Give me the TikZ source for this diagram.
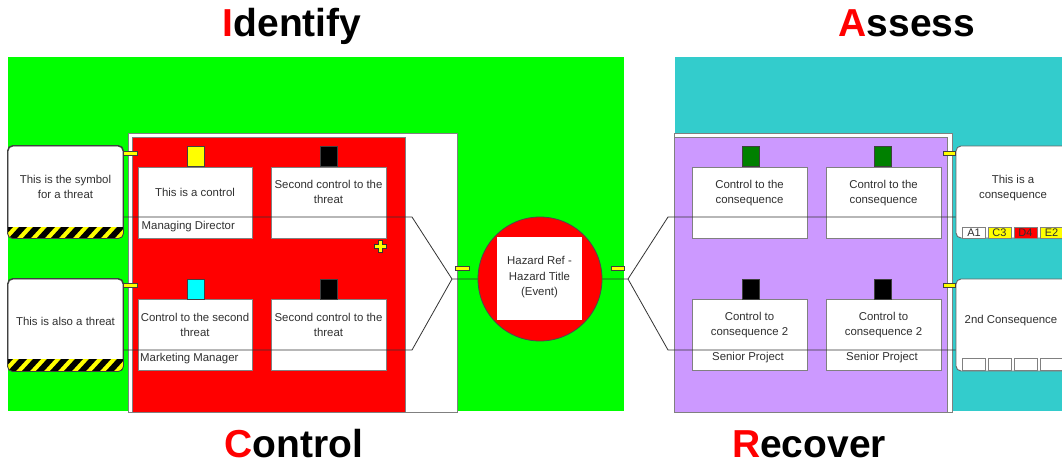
\documentclass[tikz,border=0pt]{standalone}
\usepackage{fontspec}
\setmainfont{Liberation Sans}
\definecolor{bgreen}{HTML}{00FF00}
\definecolor{bcyan}{HTML}{33CCCC}
\definecolor{bpurple}{HTML}{CC99FF}
\definecolor{bred}{HTML}{FF0000}
\definecolor{bgray}{HTML}{808080}
\definecolor{dkgreen}{HTML}{008000}
\definecolor{tagcyan}{HTML}{00FFFF}
\definecolor{byellow}{HTML}{FFFF00}
\definecolor{txt}{HTML}{303030}
\begin{document}
\begin{tikzpicture}[x=1pt,y=-1pt,
  ctrlbox/.style={draw=bgray, fill=white, line width=0.9pt, minimum width=114pt, minimum height=71pt, inner sep=0pt},
  tagbox/.style={draw=black!75, line width=0.7pt, minimum width=17pt, minimum height=20pt, inner sep=0pt},
  ctext/.style={font=\fontsize{11.4}{15.5}\selectfont, align=center, text=txt, inner sep=0pt},
  threatbox/.style={draw=black!75, fill=white, line width=0.9pt, rounded corners=5pt, minimum width=115pt, minimum height=92pt, inner sep=0pt},
  consbox/.style={draw=black!60, fill=white, line width=0.9pt, rounded corners=5pt, minimum width=124pt, minimum height=92pt, inner sep=0pt},
  conn/.style={draw=black!75, fill=byellow, line width=0.6pt},
  path/.style={draw=black!80, line width=0.8pt},
  cell/.style={draw=bgray, line width=0.8pt, minimum width=23pt, minimum height=11pt, inner sep=0pt, font=\fontsize{11}{11}\selectfont, text=txt},
  title/.style={font=\fontsize{39}{39}\selectfont\bfseries, anchor=base, inner sep=0pt, text depth=0pt}
]
\clip (0,0) rectangle (1062,466);
\fill[white] (0,0) rectangle (1062,466);
% backgrounds
\fill[bgreen] (8,57) rectangle (624,411);
\fill[bcyan] (675,57) rectangle (1062,411);
% left frame
\draw[fill=white, draw=bgray, line width=0.9pt] (128,133) rectangle (457,412);
\draw[fill=bred, draw=bgray, line width=0.9pt] (132,137) rectangle (405.5,412);
% right frame
\draw[fill=white, draw=bgray, line width=0.9pt] (674.5,133) rectangle (952,412);
\draw[fill=bpurple, draw=bgray, line width=0.9pt] (674.5,137) rectangle (947,412);

% threats
\node[threatbox] (t1) at (65.5,192) {};
\node[threatbox] (t2) at (65.5,325) {};
\foreach \tb/\ytop in {t1/227,t2/359}{
  \begin{scope}
    \clip[rounded corners=5pt] (\tb.north west) rectangle (\tb.south east);
    \clip (0,\ytop) rectangle (130,\ytop+12);
    \fill[byellow] (0,\ytop) rectangle (130,\ytop+12);
    \foreach \i in {-1,...,9}
      \fill[black] ({8+\i*14},\ytop+12) -- ({16+\i*14},\ytop+12) -- ({27+\i*14},\ytop) -- ({19+\i*14},\ytop) -- cycle;
  \end{scope}
  \draw[black!75, line width=0.9pt, rounded corners=5pt] (\tb.north west) rectangle (\tb.south east);
}
\node[ctext] (t1t) at (65.5,187) {This is the symbol\\for a threat};
\node[ctext] (t2t) at (65.5,321) {This is also a threat};

% left controls
\node[ctrlbox] (c1) at (195,202.5) {};
\node[ctrlbox, minimum width=115pt] (c2) at (328.5,202.5) {};
\node[ctrlbox] (c3) at (195,334.5) {};
\node[ctrlbox, minimum width=115pt] (c4) at (328.5,334.5) {};
\node[tagbox, fill=byellow] (g1) at (196,156.5) {};
\node[tagbox, fill=black] (g2) at (328.5,156.5) {};
\node[tagbox, fill=tagcyan] (g3) at (196,289) {};
\node[tagbox, fill=black] (g4) at (328.5,289) {};
\node[ctext] (c1t) at (195,192) {This is a control};
\node[ctext] (c2t) at (328.5,192) {Second control to the\\threat};
\node[ctext] (c3t) at (195,325) {Control to the second\\threat};
\node[ctext] (c4t) at (328.5,325) {Second control to the\\threat};
\node[ctext, anchor=west] (c1l) at (141.5,227) {Managing Director};
\node[ctext, anchor=west] (c3l) at (140,359) {Marketing Manager};

% plus
\draw[fill=byellow, draw=black!80, line width=0.6pt] (378,240) -- (382,240) -- (382,244) -- (386,244) -- (386,248) -- (382,248) -- (382,252) -- (378,252) -- (378,248) -- (374,248) -- (374,244) -- (378,244) -- cycle;

% right controls
\node[ctrlbox, minimum width=115pt] (r1) at (749.5,202.5) {};
\node[ctrlbox, minimum width=115pt] (r2) at (883.5,202.5) {};
\node[ctrlbox, minimum width=115pt] (r3) at (749.5,334.5) {};
\node[ctrlbox, minimum width=115pt] (r4) at (883.5,334.5) {};
\node[tagbox, fill=dkgreen] (h1) at (750.5,156.5) {};
\node[tagbox, fill=dkgreen] (h2) at (882.5,156.5) {};
\node[tagbox, fill=black] (h3) at (750.5,289) {};
\node[tagbox, fill=black] (h4) at (882.5,289) {};
\node[ctext] (r1t) at (749.5,193) {Control to the\\consequence};
\node[ctext] (r2t) at (883.5,193) {Control to the\\consequence};
\node[ctext] (r3t) at (749.5,325) {Control to\\consequence 2};
\node[ctext] (r4t) at (883.5,325) {Control to\\consequence 2};
\node[ctext] (r3l) at (748,358) {Senior Project};
\node[ctext] (r4l) at (882,358) {Senior Project};

% consequences
\node[consbox] (q1) at (1018,192) {};
\node[consbox] (q2) at (1018,325) {};
\node[ctext] (q1t) at (1013,188) {This is a\\consequence};
\node[ctext] (q2t) at (1011,321) {2nd Consequence};
\node[cell, fill=white] (a1) at (974,232.5) {A1};
\node[cell, fill=byellow] (a2) at (999.5,232.5) {C3};
\node[cell, fill=bred] (a3) at (1025.5,232.5) {D4};
\node[cell, fill=byellow] (a4) at (1051.5,232.5) {E2};
\node[cell, fill=white, minimum height=12pt] (b1) at (974,364.5) {};
\node[cell, fill=white, minimum height=12pt] (b2) at (999.5,364.5) {};
\node[cell, fill=white, minimum height=12pt] (b3) at (1025.5,364.5) {};
\node[cell, fill=white, minimum height=12pt] (b4) at (1051.5,364.5) {};

% hazard
\node[circle, draw=black!70, fill=bred, line width=0.8pt, minimum size=124pt, inner sep=0pt] (hz) at (540,279) {};
\node[fill=white, minimum width=85pt, minimum height=83pt, inner sep=0pt] (hzb) at (539.5,278.5) {};
\node[ctext] (hzt) at (539.5,277.5) {Hazard Ref -\\Hazard Title\\(Event)};

% path coordinates
\coordinate (lA) at (412,217);
\coordinate (lB) at (412,350);
\coordinate (jL) at (452,279);
\coordinate (jR) at (628,279);
\coordinate (rA) at (668,217);
\coordinate (rB) at (668,350);
\draw[path] (t1.east |- lA) -- (lA) -- (jL) -- (hz.west);
\draw[path] (t2.east |- lB) -- (lB) -- (jL);
\draw[path] (hz.east) -- (jR) -- (rA) -- (q1.west |- rA);
\draw[path] (jR) -- (rB) -- (q2.west |- rB);

% small yellow connectors
\draw[conn] (123,151) rectangle (137,155);
\draw[conn] (123,283) rectangle (137,287);
\draw[conn] (455,266) rectangle (469,270);
\draw[conn] (611,266) rectangle (624,270);
\draw[conn] (943,151) rectangle (955,155);
\draw[conn] (943,283) rectangle (955,287);

% titles
\node[title] (ti1) at (292,36) {\textcolor{red}{I}dentify};
\node[title] (ti2) at (907,36) {\textcolor{red}{A}ssess};
\node[title] (ti3) at (294,457) {\textcolor{red}{C}ontrol};
\node[title] (ti4) at (809,457) {\textcolor{red}{R}ecover};
\end{tikzpicture}
\end{document}
